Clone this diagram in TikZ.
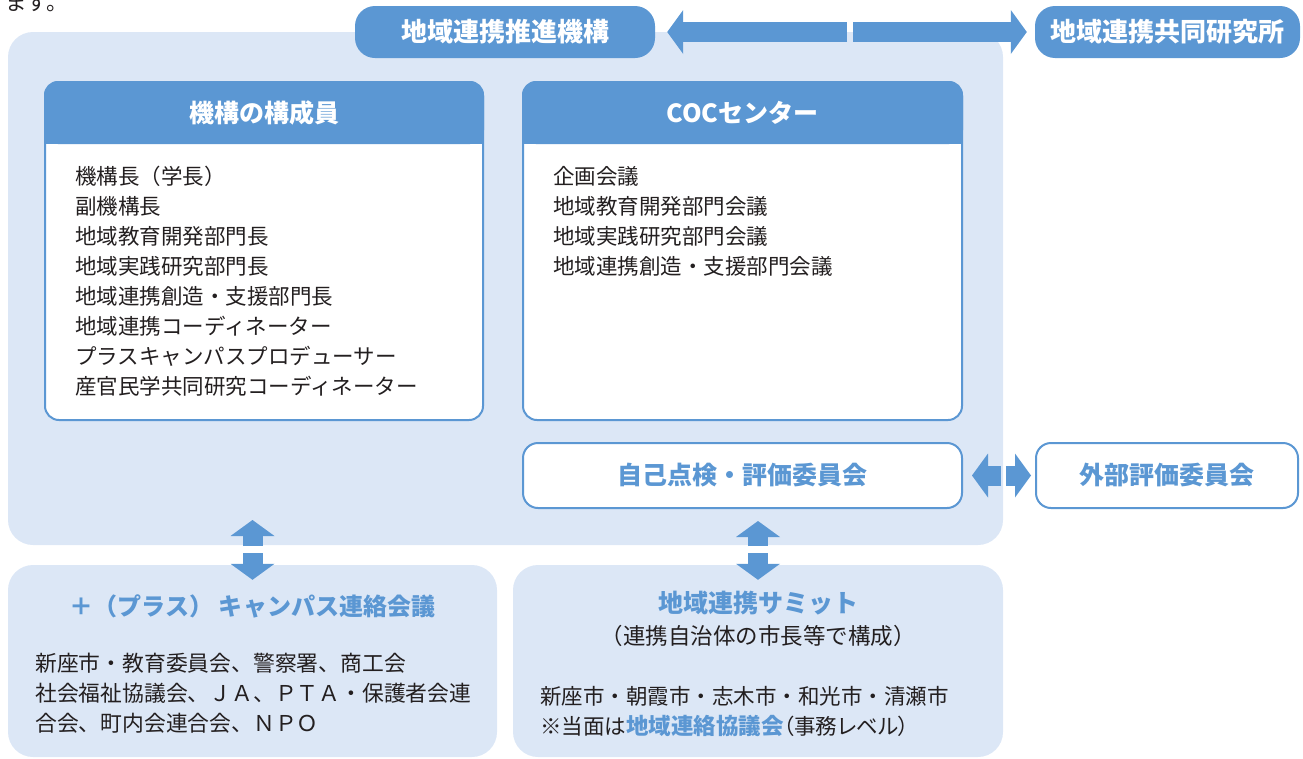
\documentclass[tikz,border=0pt]{standalone}
\usepackage{fontspec}
\setmainfont{Noto Sans CJK JP}
\usepackage{tikz}
\usetikzlibrary{
    arrows.meta,
    calc,
    positioning
}

\definecolor{kikoblue}{HTML}{5B97D3}
\definecolor{panelblue}{HTML}{DCE7F6}
\definecolor{inktext}{HTML}{231F20}

\tikzset{
    panel/.style={fill=panelblue, rounded corners=25pt, inner sep=0pt},
    headbox/.style={fill=kikoblue, rounded corners=20pt, text=white,
        font=\fontsize{26}{30}\selectfont\bfseries},
    framebox/.style={fill=white, draw=kikoblue, line width=2pt, rounded corners=14pt},
    evalbox/.style={framebox, rounded corners=15pt, text=kikoblue,
        font=\fontsize{25}{30}\selectfont\bfseries},
    hdtext/.style={text=white, font=\fontsize{25}{30}\selectfont\bfseries, inner sep=0pt},
    bluetitle/.style={text=kikoblue, font=\fontsize{25}{30}\selectfont\bfseries, inner sep=0pt},
    bodytext/.style={text=inktext, font=\fontsize{21.5}{30}\selectfont, inner sep=0pt, anchor=base west},
    blockarrow/.style={draw=kikoblue, line width=20pt,
        -{Triangle[length=16pt, width=44pt, line width=0pt]}}
}

\begin{document}
\begin{tikzpicture}[x=1pt, y=-1pt]
    \useasboundingbox (0,0) rectangle (1303,758);

    % end of the text above, cut off
    \node[bodytext] (masu) at (5,10) {ます。};

    % light panels
    \node[panel, minimum width=995pt, minimum height=513pt] (kikobg) at (505.5,288.5) {};
    \node[panel, minimum width=489pt, minimum height=192pt] (plus) at (252.5,661) {};
    \node[panel, minimum width=490pt, minimum height=192pt] (summit) at (758,661) {};

    % top row
    \node[headbox, minimum width=300pt, minimum height=52pt] (suishin) at (505,32) {地域連携推進機構};
    \node[headbox, minimum width=265pt, minimum height=52pt] (kyodo) at (1167.5,32) {地域連携共同研究所};

    % member box and COC box
    \node[framebox, minimum width=438pt, minimum height=338pt] (kosei) at (264,251) {};
    \node[framebox, minimum width=439pt, minimum height=338pt] (coc) at (742.5,251) {};
    \foreach \frm in {kosei,coc} {
        \fill[kikoblue, rounded corners=14pt] (\frm.north west) rectangle ([yshift=-63pt]\frm.north east);
        \fill[kikoblue] ([yshift=-40pt]\frm.north west) rectangle ([yshift=-63pt]\frm.north east);
    }
    \node[hdtext] (koseihd) at ([yshift=-32pt]kosei.north) {機構の構成員};
    \node[hdtext] (cochd) at ([yshift=-32pt]coc.north) {COCセンター};

    \foreach \t [count=\i] in {機構長（学長）,副機構長,地域教育開発部門長,地域実践研究部門長,地域連携創造・支援部門長,地域連携コーディネーター,プラスキャンパスプロデューサー,産官民学共同研究コーディネーター}
        \node[bodytext] (kosei-\i) at (75,154+30*\i) {\t};
    \foreach \t [count=\i] in {企画会議,地域教育開発部門会議,地域実践研究部門会議,地域連携創造・支援部門会議}
        \node[bodytext] (coc-\i) at (553,154+30*\i) {\t};

    % evaluation
    \node[evalbox, minimum width=439pt, minimum height=65pt] (jiko) at (742.5,475.5) {自己点検・評価委員会};
    \node[evalbox, minimum width=262pt, minimum height=65pt] (gaibu) at (1167,475.5) {外部評価委員会};

    % lower panels
    \node[bluetitle, font=\fontsize{24}{30}\selectfont\bfseries] (plushd) at (252.5,606) {＋（プラス） キャンパス連絡会議};
    \node[bodytext, font=\fontsize{21.8}{30}\selectfont] (plus-1) at (35,671) {新座市・教育委員会、警察署、商工会};
    \node[bodytext, font=\fontsize{21.8}{30}\selectfont] (plus-2) at (35,701) {社会福祉協議会、ＪＡ、ＰＴＡ・保護者会連};
    \node[bodytext, font=\fontsize{21.8}{30}\selectfont] (plus-3) at (35,731) {合会、町内会連合会、ＮＰＯ};

    \node[bluetitle] (summithd) at (758,603) {地域連携サミット};
    \node[bodytext, anchor=base, font=\fontsize{22.5}{30}\selectfont] (summitsub) at (758,644) {（連携自治体の市長等で構成）};
    \node[bodytext] (summit-1) at (540,704) {新座市・朝霞市・志木市・和光市・清瀬市};
    \node[bodytext] (summit-2) at (540,734) {※当面は{\color{kikoblue}\bfseries\fontsize{22.5}{30}\selectfont 地域連絡協議会}{\addfontfeatures{RawFeature=+palt}（事務レベル）}};

    % arrows
    \coordinate (topgap) at (850,32);
    \draw[blockarrow, shorten >=12pt] ([xshift=-3pt]topgap) -- (suishin);
    \draw[blockarrow, shorten >=8pt] ([xshift=3pt]topgap) -- (kyodo);

    \coordinate (sidegap) at (1003.4,475.5);
    \draw[blockarrow, shorten >=9pt] ([xshift=-2.4pt]sidegap) -- (jiko);
    \draw[blockarrow, shorten >=4pt] ([xshift=2.4pt]sidegap) -- (gaibu);

    \coordinate (lgap) at (252.5,549.5);
    \coordinate (lup) at (252.5,520);
    \coordinate (ldown) at ([yshift=-15pt]plus.north);
    \draw[blockarrow] ([yshift=3.5pt]lgap) -- (lup);
    \draw[blockarrow] ([yshift=-3.5pt]lgap) -- (ldown);

    \coordinate (rgap) at (758,549.5);
    \coordinate (rdown) at ([yshift=-15pt]summit.north);
    \draw[blockarrow, shorten >=12pt] ([yshift=3.5pt]rgap) -- (rgap |- jiko.south);
    \draw[blockarrow] ([yshift=-3.5pt]rgap) -- (rdown);
\end{tikzpicture}
\end{document}
